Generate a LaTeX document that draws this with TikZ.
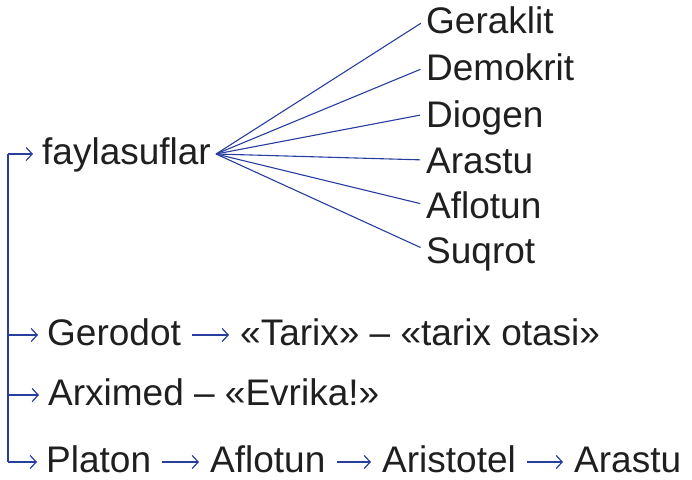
\documentclass[tikz,border=0pt]{standalone}
\usepackage{fontspec}
\setmainfont{Liberation Sans}
\usetikzlibrary{arrows.meta}
\definecolor{lineblue}{RGB}{40,62,158}

\begin{document}
\begin{tikzpicture}[x=1pt, y=-1pt,
    word/.style={anchor=base west, inner sep=0pt, font=\fontsize{37}{40}\selectfont, text=black!88},
    fan/.style={lineblue, line width=1.1pt},
    trunkline/.style={lineblue, line width=1.2pt},
    branch/.style={lineblue, line width=1.2pt, -{Straight Barb[length=6pt,width=13pt]}, shorten >=9pt},
    link/.style={lineblue, line width=1.2pt, -{Straight Barb[length=6pt,width=13pt]}, shorten >=11pt, shorten <=11pt}
]
\useasboundingbox (0,0) rectangle (692,479);

\node[word] at (42,164) (fayl) {faylasuflar};

% names on the right
\node[word] at (426,33) (geraklit) {Geraklit};
\node[word] at (426,80) (demokrit) {Demokrit};
\node[word] at (426,127) (diogen) {Diogen};
\node[word] at (426,173) (arastu) {Arastu};
\node[word] at (426,218) (aflotun) {Aflotun};
\node[word] at (426,263) (suqrot) {Suqrot};

\coordinate (hub) at ([xshift=5pt, yshift=10pt]fayl.base east);
\foreach \n in {geraklit,demokrit,diogen,arastu,aflotun,suqrot}
    \draw[fan, shorten >=6pt] (hub) -- ([yshift=13pt]\n.base west);

% lower rows
\node[word] at (47,345) (gerodot) {Gerodot};
\node[word] at (240,345) (tarix) {«Tarix» – «tarix otasi»};
\node[word] at (48,405) (arximed) {Arximed – «Evrika!»};
\node[word] at (46,472) (platon) {Platon};
\node[word] at (210,472) (aflotun2) {Aflotun};
\node[word] at (382,472) (aristotel) {Aristotel};
\node[word] at (574,472) (arastu2) {Arastu};

\draw[link] ([yshift=10pt]gerodot.base east) -- ([yshift=10pt]tarix.base west);
\draw[link] ([yshift=10pt]platon.base east) -- ([yshift=10pt]aflotun2.base west);
\draw[link] ([yshift=10pt]aflotun2.base east) -- ([yshift=10pt]aristotel.base west);
\draw[link] ([yshift=10pt]aristotel.base east) -- ([yshift=10pt]arastu2.base west);

% trunk on the left
\coordinate (trunk) at (8,0);
\draw[trunkline] ([yshift=10pt]trunk |- fayl.base west) -- ([yshift=10pt]trunk |- platon.base west);
\foreach \n in {fayl,gerodot,arximed,platon}
    \draw[branch] ([yshift=10pt]trunk |- \n.base west) -- ([yshift=10pt]\n.base west);
\end{tikzpicture}
\end{document}
